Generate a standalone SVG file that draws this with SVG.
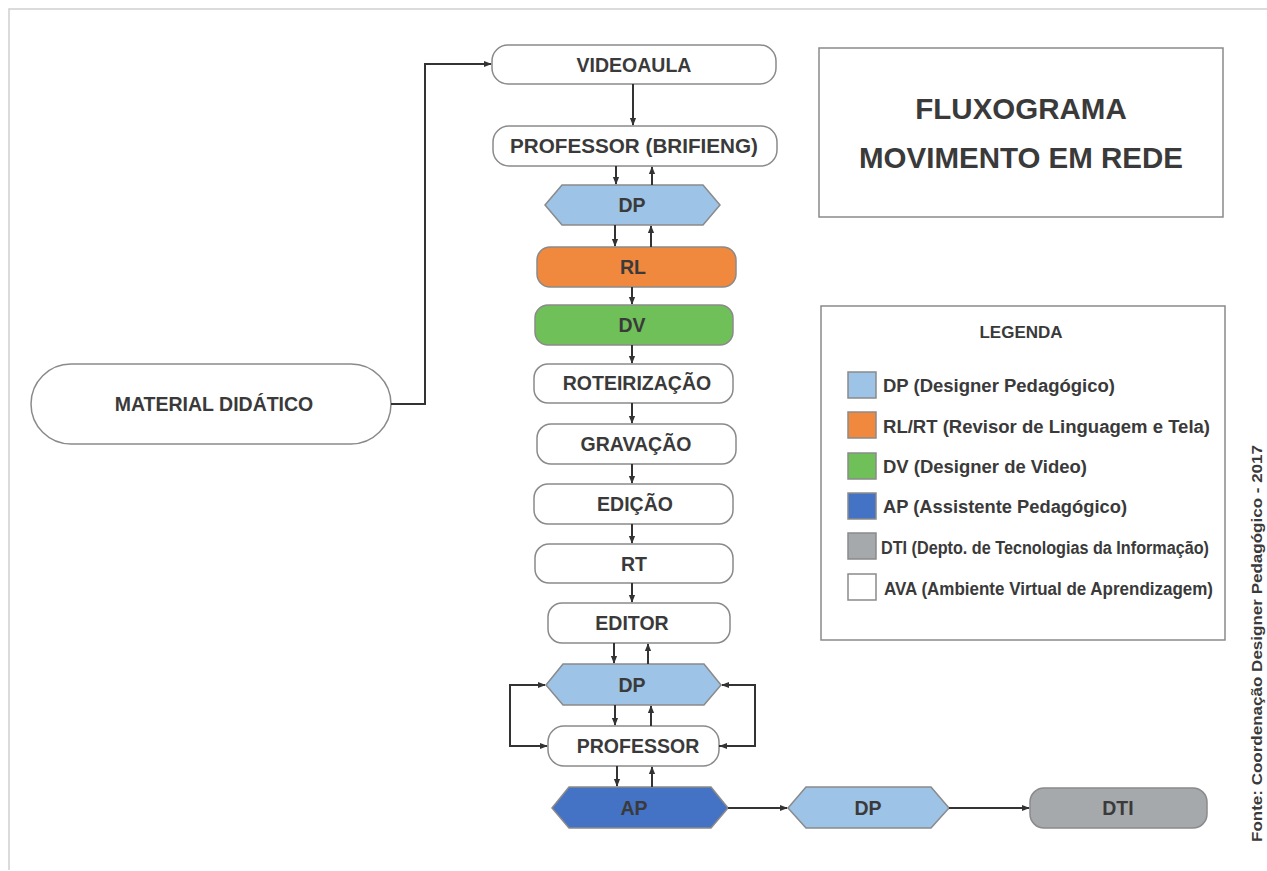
<svg xmlns="http://www.w3.org/2000/svg" width="1267" height="871" viewBox="0 0 1267 871">
<defs>
<marker id="ah" viewBox="0 0 10 10" refX="9" refY="5" markerWidth="8" markerHeight="8" markerUnits="userSpaceOnUse" orient="auto"><path d="M0,1 L10,5 L0,9 Z" fill="#333"/></marker>
<style>
.n{stroke:#8a8a8a;stroke-width:1.5;}
.w{fill:#fff;}
.t{font-family:"Liberation Sans",Arial,sans-serif;font-weight:bold;fill:#3a3a3a;text-anchor:middle;dominant-baseline:central;font-size:19.5px;}
.lt{font-family:"Liberation Sans",Arial,sans-serif;font-weight:bold;fill:#3a3a3a;font-size:18px;dominant-baseline:central;}
.c{fill:none;stroke:#333;stroke-width:2;marker-end:url(#ah);}
</style>
</defs>
<rect x="0" y="0" width="1267" height="871" fill="#fff"/>
<path d="M9,870 L9,9 L1267,9" fill="none" stroke="#cfcfcf" stroke-width="1.5"/>

<g id="videoaula"><rect class="n w" x="492" y="45" width="284" height="39" rx="16"/><text class="t" x="634" y="65">VIDEOAULA</text></g>
<g id="professor-brifieng"><rect class="n w" x="493" y="126" width="284" height="40" rx="16"/><text class="t" x="634" y="146" textLength="248" lengthAdjust="spacingAndGlyphs">PROFESSOR (BRIFIENG)</text></g>
<g id="dp1"><polygon class="n" fill="#9dc3e6" points="545,205 562,185 703,185 720,205 703,225 562,225"/><text class="t" x="632" y="205">DP</text></g>
<g id="rl"><rect class="n" fill="#f0883e" x="537" y="247" width="199" height="40" rx="13"/><text class="t" x="633" y="267">RL</text></g>
<g id="dv"><rect class="n" fill="#70c05a" x="535" y="305" width="198" height="40" rx="13"/><text class="t" x="632" y="325">DV</text></g>
<g id="roteirizacao"><rect class="n w" x="534" y="364" width="199" height="39" rx="14"/><text class="t" x="637" y="383">ROTEIRIZAÇÃO</text></g>
<g id="gravacao"><rect class="n w" x="537" y="424" width="199" height="40" rx="14"/><text class="t" x="636" y="444">GRAVAÇÃO</text></g>
<g id="edicao"><rect class="n w" x="534" y="484" width="199" height="40" rx="14"/><text class="t" x="635" y="504">EDIÇÃO</text></g>
<g id="rt"><rect class="n w" x="535" y="544" width="198" height="39" rx="14"/><text class="t" x="634" y="564">RT</text></g>
<g id="editor"><rect class="n w" x="548" y="603" width="182" height="40" rx="14"/><text class="t" x="632" y="623">EDITOR</text></g>
<g id="dp2"><polygon class="n" fill="#9dc3e6" points="546,685 563,664 704,664 721,685 704,705 563,705"/><text class="t" x="632" y="685">DP</text></g>
<g id="professor"><rect class="n w" x="548" y="726" width="171" height="40" rx="16"/><text class="t" x="638" y="746">PROFESSOR</text></g>
<g id="ap"><polygon class="n" fill="#4472c4" points="552,808 569,787 711,787 728,808 711,828 569,828"/><text class="t" x="634" y="808">AP</text></g>
<g id="dp3"><polygon class="n" fill="#9dc3e6" points="788,808 806,787 931,787 949,808 931,828 806,828"/><text class="t" x="868" y="808">DP</text></g>
<g id="dti"><rect class="n" fill="#a6a9ac" x="1030" y="788" width="177" height="40" rx="14"/><text class="t" x="1118" y="808">DTI</text></g>
<g id="material-didatico"><rect class="n w" x="31" y="364" width="360" height="80" rx="40"/><text class="t" x="214" y="404">MATERIAL DIDÁTICO</text></g>

<g id="title"><rect class="n w" x="819" y="48" width="404" height="169"/><text class="t" x="1021" y="108" style="font-size:29.5px">FLUXOGRAMA</text><text class="t" x="1021" y="157" style="font-size:29.5px">MOVIMENTO EM REDE</text></g>

<g id="legend">
<rect class="n w" x="821" y="306" width="404" height="334"/>
<text class="t" x="1021" y="332" style="font-size:17px">LEGENDA</text>
<rect class="n" fill="#9dc3e6" x="848" y="372" width="28" height="26"/><text class="lt" x="883" y="386" textLength="232" lengthAdjust="spacingAndGlyphs">DP (Designer Pedagógico)</text>
<rect class="n" fill="#f0883e" x="848" y="412" width="28" height="26"/><text class="lt" x="883" y="427" textLength="327" lengthAdjust="spacingAndGlyphs">RL/RT (Revisor de Linguagem e Tela)</text>
<rect class="n" fill="#70c05a" x="848" y="453" width="28" height="26"/><text class="lt" x="883" y="467" textLength="204" lengthAdjust="spacingAndGlyphs">DV (Designer de Video)</text>
<rect class="n" fill="#4472c4" x="848" y="493" width="28" height="26"/><text class="lt" x="883" y="507" textLength="244" lengthAdjust="spacingAndGlyphs">AP (Assistente Pedagógico)</text>
<rect class="n" fill="#a6a9ac" x="848" y="533" width="28" height="26"/><text class="lt" x="881" y="548" textLength="328" lengthAdjust="spacingAndGlyphs">DTI (Depto. de Tecnologias da Informação)</text>
<rect class="n w" x="848" y="574" width="28" height="26"/><text class="lt" x="884" y="589" textLength="329" lengthAdjust="spacingAndGlyphs">AVA (Ambiente Virtual de Aprendizagem)</text>
</g>

<g id="source"><text class="lt" transform="translate(1256,842) rotate(-90)" style="font-size:15px" x="0" y="0" textLength="397" lengthAdjust="spacingAndGlyphs">Fonte: Coordenação Designer Pedagógico - 2017</text></g>

<g id="connectors">
<path class="c" d="M391,404 H425 V64 H491"/>
<path class="c" d="M633,84 V125"/>
<path class="c" d="M616,166 V184"/>
<path class="c" d="M652,185 V167"/>
<path class="c" d="M615,225 V246"/>
<path class="c" d="M651,247 V226"/>
<path class="c" d="M632,287 V304"/>
<path class="c" d="M632,345 V363"/>
<path class="c" d="M632,403 V423"/>
<path class="c" d="M632,464 V483"/>
<path class="c" d="M632,524 V543"/>
<path class="c" d="M632,583 V602"/>
<path class="c" d="M614,643 V663"/>
<path class="c" d="M648,664 V644"/>
<path class="c" d="M615,705 V725"/>
<path class="c" d="M651,726 V706"/>
<path class="c" d="M617,766 V786"/>
<path class="c" d="M652,787 V767"/>
<path class="c" d="M546,746 H510 V685 H545"/>
<path class="c" d="M510,720 V746 H547"/>
<path class="c" d="M719,746 H755 V685 H722"/>
<path class="c" d="M755,720 V746 H720"/>
<path class="c" d="M728,808 H787"/>
<path class="c" d="M949,808 H1029"/>
</g>
</svg>
